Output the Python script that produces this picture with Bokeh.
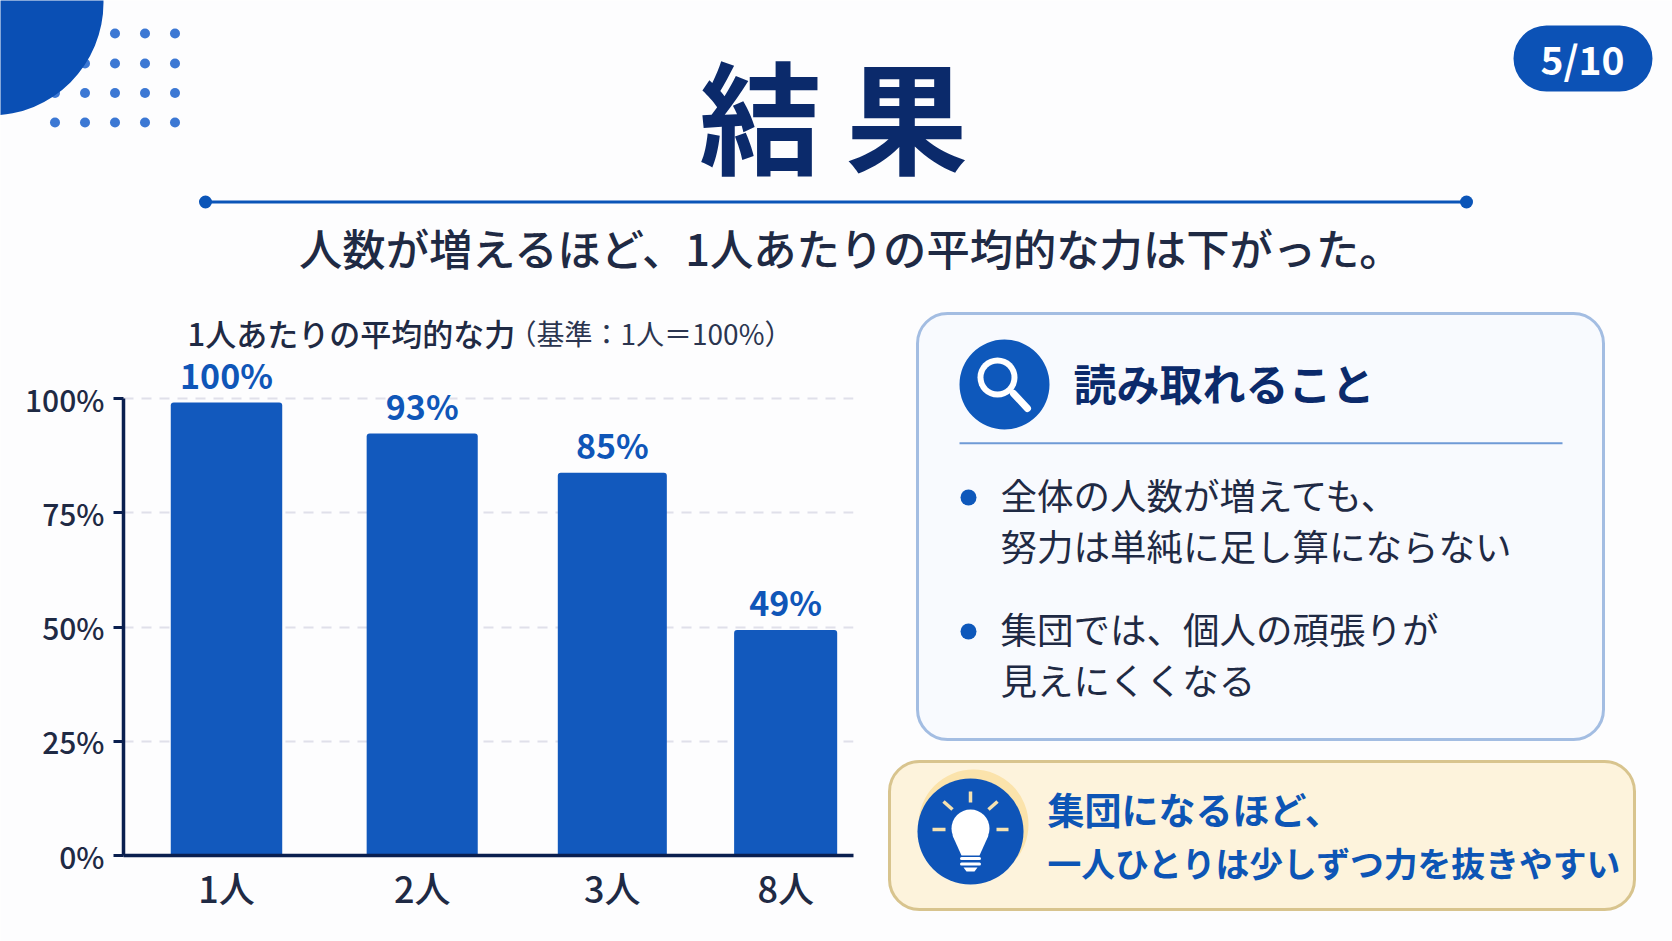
from bokeh.embed import file_html
from bokeh.layouts import column
from bokeh.resources import INLINE
from bokeh.plotting import figure
from bokeh.models import (BoxAnnotation, ColumnDataSource, FixedTicker, Label,
                          PolyAnnotation, Range1d)

# ---- chart data ----
categories = ["1人", "2人", "3人", "8人"]
bar_values = [99.2, 92.4, 83.8, 49.4]
value_labels = ["100%", "93%", "85%", "49%"]
y_ticks = [0, 25, 50, 75, 100]
y_tick_labels = ["0%", "25%", "50%", "75%", "100%"]

# ---- texts ----
TITLE = "結\u2009果"
SUBTITLE = "人数が増えるほど、1人あたりの平均的な力は下がった。"
PAGE = "5/10"
CHART_T1 = "1人あたりの平均的な力"
CHART_T2 = "（基準：1人＝100%）"
CARD_HEAD = "読み取れること"
CARD_LINES = ["全体の人数が増えても、", "努力は単純に足し算にならない", "集団では、個人の頑張りが", "見えにくくなる"]
TIP_LINES = ["集団になるほど、", "一人ひとりは少しずつ力を抜きやすい"]

# ---- layout ----
W, H = 1672, 941
FL, FR, FT, FB = 123, 853, 350, 855      # plot frame in page pixels
YTOP = (FB - FT) / 4.567                 # value at the frame top, leaving room for the labels
slots = [0, 1.05, 2.07, 3.0]             # horizontal placement of the four bars
bar_widths = [0.598, 0.596, 0.585, 0.553]

JP = "Noto Sans CJK JP"
JPM = "Noto Sans CJK JP Medium"
NAVY = "#0b2a6b"
INK = "#1f2a44"
BLUE = "#1259bd"
BG = "#fdfdfe"

# the slide behind the chart: a page-sized frame, measured in page pixels
bg = figure(width=W, height=H, output_backend="svg", toolbar_location=None, frame_align=False,
            x_range=Range1d(0, W), y_range=Range1d(0, H), x_axis_type=None, y_axis_type=None,
            min_border=0, background_fill_color=BG, border_fill_color=BG, outline_line_color=None)
bg.grid.visible = False

# the chart itself, on a transparent figure laid over the slide
p = figure(width=W, height=H, margin=(-H, 0, 0, 0), output_backend="svg", toolbar_location=None, frame_align=False,
           x_range=Range1d(-0.5526, 3.364), y_range=Range1d(0, YTOP),
           min_border_left=FL, min_border_right=W - FR, min_border_top=FT, min_border_bottom=H - FB,
           background_fill_color=None, border_fill_color=None, outline_line_color=None)

src = ColumnDataSource(dict(x=slots, top=bar_values, w=bar_widths))
p.vbar(x="x", top="top", width="w", bottom=0, source=src, fill_color=BLUE, line_color=None,
       border_radius=(3, 3, 0, 0))

p.xgrid.visible = False
p.ygrid.ticker = FixedTicker(ticks=y_ticks[1:])
p.ygrid.grid_line_color = "#e0e0ea"
p.ygrid.grid_line_width = 2
p.ygrid.grid_line_dash = "10 8"

ya = p.yaxis[0]
ya.bounds = (0, 100)
ya.ticker = FixedTicker(ticks=y_ticks)
ya.major_label_overrides = dict(zip(y_ticks, y_tick_labels))
ya.axis_line_color = "#0a1f4f"
ya.axis_line_width = 3.5
ya.major_tick_line_color = "#0a1f4f"
ya.major_tick_line_width = 3
ya.major_tick_out = 10
ya.major_tick_in = 0
ya.minor_tick_line_color = None
ya.major_label_standoff = 9
ya.major_label_text_font = JPM
ya.major_label_text_font_size = "30px"
ya.major_label_text_color = INK

xa = p.xaxis[0]
xa.ticker = FixedTicker(ticks=slots)
xa.major_label_overrides = dict(zip(slots, categories))
xa.axis_line_color = "#0a1f4f"
xa.axis_line_width = 3.5
xa.major_tick_line_color = None
xa.minor_tick_line_color = None
xa.major_label_standoff = -1
xa.major_label_text_font = JPM
xa.major_label_text_font_size = "36px"
xa.major_label_text_color = INK

# value labels above the bars
for sx, v, lab in zip(slots, bar_values, value_labels):
    p.add_layout(Label(x=sx, y=v, y_offset=28, text=lab, text_align="center", text_baseline="middle",
                       text_color="#0f56b8", text_font=JP, text_font_style="bold", text_font_size="34px"))


def box(l, t, r, b, fill, line=None, lw=0, radius=0):
    bg.add_layout(BoxAnnotation(left=l, right=r, top=H - t, bottom=H - b, fill_color=fill, fill_alpha=1,
                                line_color=line, line_width=lw, line_alpha=1, border_radius=int(round(radius))))


def disc(cx, cy, r, fill):
    box(cx - r, cy - r, cx + r, cy + r, fill, radius=r + 0.5)


def seg(x0, y0, x1, y1, color, w, cap="round"):
    bg.add_layout(PolyAnnotation(xs=[x0, x1], ys=[H - y0, H - y1], fill_alpha=0, line_color=color, line_width=w,
                                 line_alpha=1, line_cap=cap))


def poly(xs, ys, fill):
    bg.add_layout(PolyAnnotation(xs=xs, ys=[H - v for v in ys], fill_color=fill, fill_alpha=1, line_color=None))


def txt(x, y, s, size, color, font=JP, style="normal", align="left"):
    bg.add_layout(Label(x=x, y=H - y, text=s, text_font=font, text_font_style=style, text_font_size=f"{size}px",
                        text_color=color, text_align=align, text_baseline="middle"))


# decoration, top left
for dy in (33, 63, 92.5, 122):
    for dx in (54.5, 84.5, 114.5, 144.5, 174.5):
        disc(dx, dy, 5, "#3c78d4")
disc(-10, 2, 113, "#0a4fb4")

# page badge
box(1513, 25, 1652, 91, "#0c52b6", radius=33)
txt(1582, 57, PAGE, 39, "#ffffff", style="bold", align="center")

# heading
txt(833, 111, TITLE, 122, NAVY, style="bold", align="center")
seg(205, 201.5, 1466, 201.5, "#0b55b8", 3)
disc(205, 201.5, 6.5, "#0b55b8")
disc(1466, 201.5, 6.5, "#0b55b8")
txt(851, 246, SUBTITLE, 43.3, INK, font=JPM, align="center")

# chart title
txt(187, 332, CHART_T1, 31, INK, font=JPM)
txt(508, 332, CHART_T2, 28, "#2b3550")

# reading card
box(917, 313, 1603, 739, "#f8fafe", "#a3bde2", 3, 30)
disc(1004, 384, 45, "#0e58bb")
disc(997, 377, 20, "#ffffff")
disc(997, 377, 14, "#0e58bb")
seg(1013, 393, 1027, 408, "#ffffff", 7)
txt(1073, 381, CARD_HEAD, 43, NAVY, style="bold")
seg(959, 442.7, 1562, 442.7, "#6f9ad6", 2, cap="butt")
disc(968, 497, 8, "#0e58bb")
disc(968, 631, 8, "#0e58bb")
for yy, line in zip((494, 545, 628, 679), CARD_LINES):
    txt(1000, yy, line, 36.5, INK)

# tip card
box(889, 761, 1634, 909, "#fdf3dc", "#d8c48e", 3, 30)
disc(973, 824, 55, "#fbe3ab")
disc(970, 831, 53, "#0e54b8")
disc(970, 828, 19, "#ffffff")
poly([952, 961, 979, 988], [835, 855, 855, 835], "#ffffff")
for yy in (858, 863.5):
    seg(961, yy, 979, yy, "#ffffff", 3)
poly([963, 977, 974, 966], [867, 867, 871, 871], "#ffffff")
for x0, y0, x1, y1 in ((970, 791, 970, 802), (943, 801, 952, 809), (997, 801, 988, 809),
                       (932, 829, 945, 829), (996, 829, 1008, 829)):
    seg(x0, y0, x1, y1, "#f6e2b0", 3.5, cap="butt")
txt(1047, 808, TIP_LINES[0], 37, "#0d55b5", style="bold")
txt(1047, 862, TIP_LINES[1], 33.8, "#0d55b5", style="bold")

page = column(bg, p)
open("out.html", "w").write(file_html(page, INLINE))
